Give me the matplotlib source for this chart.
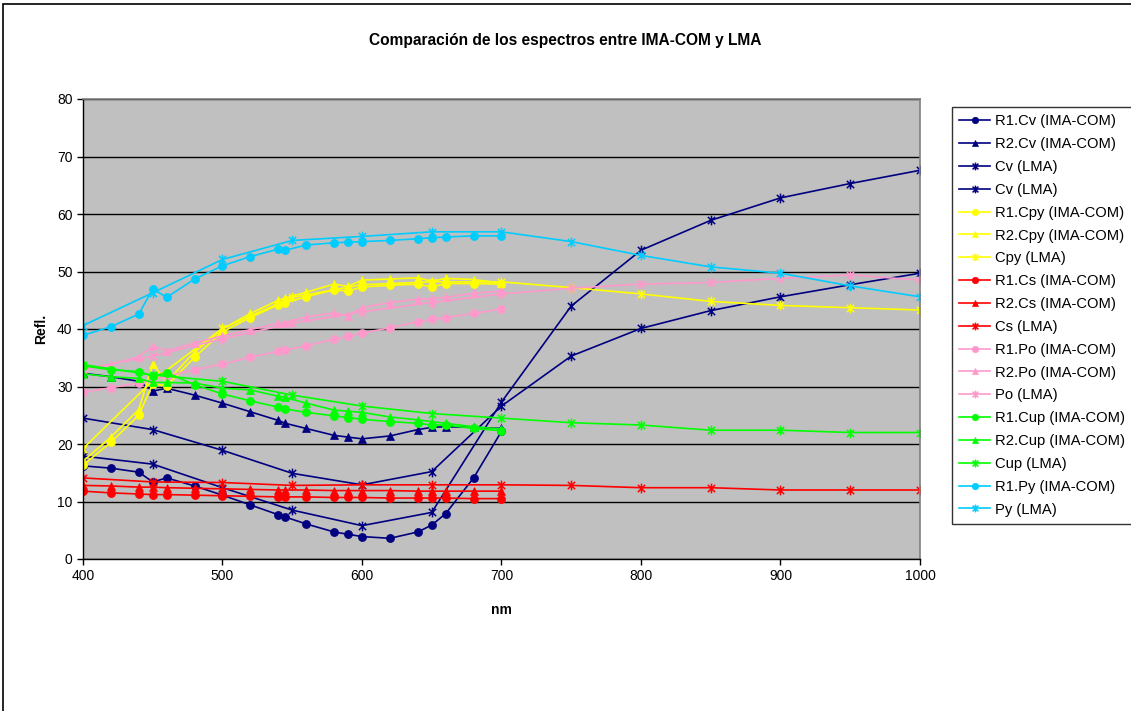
import matplotlib
matplotlib.use("Agg")
import matplotlib.pyplot as plt
from matplotlib.path import Path
from matplotlib.patches import Rectangle

plt.rcParams["font.family"] = ["Liberation Sans", "DejaVu Sans"]

# wavelengths (nm)
wl_ima = [400, 420, 440, 450, 460, 480, 500, 520, 540, 545,
          560, 580, 590, 600, 620, 640, 650, 660, 680, 700]
wl_lma = [400, 450, 500, 550, 600, 650, 700, 750, 800, 850, 900, 950, 1000]

r1_cv = [16.2, 15.8, 15.1, 13.4, 14.1, 12.7, 11.1, 9.4, 7.7, 7.3,
         6.1, 4.7, 4.3, 3.9, 3.6, 4.7, 5.9, 7.9, 14.1, 22.2]
r2_cv = [32.3, 31.7, 30.9, 29.2, 29.7, 28.5, 27.1, 25.6, 24.1, 23.6,
         22.7, 21.5, 21.2, 20.9, 21.4, 22.5, 22.9, 23.0, 22.9, 22.7]
cv_lma_a = [24.5, 22.5, 18.9, 14.9, 12.9, 15.2, 26.6, 35.3, 40.1, 43.2, 45.6, 47.7, 49.7]
cv_lma_b = [17.9, 16.5, 12.4, 8.5, 5.8, 8.1, 27.3, 44.0, 53.7, 58.9, 62.8, 65.3, 67.6]

r1_cpy = [16.3, 20.3, 25.0, 30.5, 30.1, 35.1, 39.5, 42.0, 44.2, 44.6,
          45.6, 46.8, 46.6, 47.3, 47.6, 47.8, 47.3, 47.9, 47.9, 47.8]
r2_cpy = [17.0, 21.2, 26.0, 33.9, 30.8, 36.0, 40.0, 42.7, 45.0, 45.4,
          46.4, 47.8, 47.4, 48.5, 48.7, 48.9, 48.3, 48.8, 48.6, 48.0]
cpy_lma = [19.2, 31.0, 40.1, 45.5, 47.7, 48.2, 48.2, 47.2, 46.1, 44.8, 44.1, 43.7, 43.3]

r1_cs = [11.8, 11.5, 11.3, 11.2, 11.2, 11.1, 11.0, 10.9, 10.8, 10.8,
         10.8, 10.7, 10.7, 10.7, 10.6, 10.6, 10.6, 10.6, 10.5, 10.5]
r2_cs = [12.8, 12.7, 12.5, 12.5, 12.4, 12.3, 12.2, 12.1, 12.0, 12.0,
         12.0, 11.9, 11.9, 11.9, 11.9, 11.8, 11.8, 11.8, 11.8, 11.8]
cs_lma = [14.1, 13.4, 13.3, 12.8, 12.9, 12.9, 12.9, 12.8, 12.4, 12.4, 12.0, 12.0, 12.0]

r1_po = [29.0, 29.8, 30.6, 31.2, 31.8, 32.9, 33.9, 35.1, 36.1, 36.3,
         37.1, 38.2, 38.7, 39.3, 40.2, 41.3, 41.7, 42.0, 42.7, 43.5]
r2_po = [32.8, 33.8, 35.2, 37.0, 36.2, 37.6, 38.8, 39.9, 41.0, 41.1,
         42.1, 42.8, 42.3, 43.7, 44.6, 45.2, 45.3, 45.5, 46.2, 46.6]
po_lma = [33.0, 35.3, 38.3, 41.0, 43.0, 44.6, 46.1, 47.1, 47.8, 48.1, 48.8, 49.4, 48.5]

r1_cup = [33.6, 32.9, 32.6, 31.8, 32.4, 30.3, 28.7, 27.5, 26.4, 26.1,
          25.5, 24.9, 24.6, 24.3, 23.9, 23.6, 23.3, 23.3, 22.7, 22.3]
r2_cup = [32.2, 31.7, 31.4, 30.7, 30.7, 30.6, 29.7, 29.4, 28.3, 28.1,
          27.1, 25.9, 25.7, 25.5, 24.7, 24.2, 23.9, 23.6, 23.0, 22.6]
cup_lma = [33.8, 32.0, 30.9, 28.5, 26.6, 25.3, 24.5, 23.7, 23.3, 22.4, 22.4, 22.0, 22.0]

r1_py = [38.9, 40.4, 42.6, 47.0, 45.5, 48.7, 51.0, 52.6, 53.9, 53.7,
         54.6, 55.0, 55.1, 55.2, 55.4, 55.7, 55.9, 56.0, 56.2, 56.2]
py_lma = [40.6, 46.3, 52.1, 55.4, 56.1, 56.9, 56.9, 55.2, 52.8, 50.8, 49.7, 47.5, 45.6]

NAVY, YELLOW, RED = "#000080", "#FFFF00", "#FF0000"
PINK, GREEN, SKY = "#FF99CC", "#00FF00", "#00CCFF"

# Excel-style asterisk marker: X plus vertical bar
star = Path([(0, -1), (0, 1), (-0.75, -0.75), (0.75, 0.75), (-0.75, 0.75), (0.75, -0.75)],
            [Path.MOVETO, Path.LINETO] * 3)

series = [
    (wl_ima, r1_cv, NAVY, "o", "R1.Cv (IMA-COM)"),
    (wl_ima, r2_cv, NAVY, "^", "R2.Cv (IMA-COM)"),
    (wl_lma, cv_lma_a, NAVY, star, "Cv (LMA)"),
    (wl_lma, cv_lma_b, NAVY, star, "Cv (LMA)"),
    (wl_ima, r1_cpy, YELLOW, "o", "R1.Cpy (IMA-COM)"),
    (wl_ima, r2_cpy, YELLOW, "^", "R2.Cpy (IMA-COM)"),
    (wl_lma, cpy_lma, YELLOW, star, "Cpy (LMA)"),
    (wl_ima, r1_cs, RED, "o", "R1.Cs (IMA-COM)"),
    (wl_ima, r2_cs, RED, "^", "R2.Cs (IMA-COM)"),
    (wl_lma, cs_lma, RED, star, "Cs (LMA)"),
    (wl_ima, r1_po, PINK, "o", "R1.Po (IMA-COM)"),
    (wl_ima, r2_po, PINK, "^", "R2.Po (IMA-COM)"),
    (wl_lma, po_lma, PINK, star, "Po (LMA)"),
    (wl_ima, r1_cup, GREEN, "o", "R1.Cup (IMA-COM)"),
    (wl_ima, r2_cup, GREEN, "^", "R2.Cup (IMA-COM)"),
    (wl_lma, cup_lma, GREEN, star, "Cup (LMA)"),
    (wl_ima, r1_py, SKY, "o", "R1.Py (IMA-COM)"),
    (wl_lma, py_lma, SKY, star, "Py (LMA)"),
]

fig = plt.figure(figsize=(11.31, 7.11), dpi=100)
ax = fig.add_axes([83 / 1131, 1 - 559 / 711, 837 / 1131, 460 / 711])
ax.set_facecolor("#C0C0C0")

for x, y, col, mk, lab in series:
    is_star = not isinstance(mk, str)
    ax.plot(x, y, color=col, linewidth=1.2, marker=mk,
            markersize=7 if is_star else 5.8,
            markeredgewidth=1.1 if is_star else 0.5,
            markerfacecolor=col, markeredgecolor=col, label=lab)

ax.set_xlim(400, 1000)
ax.set_ylim(0, 80)
ax.set_xticks(range(400, 1001, 100))
ax.set_yticks(range(0, 81, 10))
ax.yaxis.grid(True, color="black", linewidth=1)
ax.set_axisbelow(True)
ax.tick_params(axis="both", labelsize=10, length=4, width=1, direction="out", color="black")
for side in ("top", "right"):
    ax.spines[side].set_color("#808080")
    ax.spines[side].set_linewidth(1.2)
for side in ("left", "bottom"):
    ax.spines[side].set_color("black")
    ax.spines[side].set_linewidth(1)

ax.set_xlabel("nm", fontsize=10, fontweight="bold", labelpad=14)
ax.set_ylabel("Refl.", fontsize=10, fontweight="bold", labelpad=6)
fig.text(0.5, 1 - 41 / 711, "Comparación de los espectros entre IMA-COM y LMA",
         ha="center", va="center", fontsize=11.2, fontweight="bold")

leg = fig.legend(loc="upper left", bbox_to_anchor=(952 / 1131, 1 - 107 / 711),
                 fontsize=10.6, frameon=True, fancybox=False, borderpad=0.5,
                 labelspacing=0.6, handlelength=2.1, handletextpad=0.3,
                 markerscale=0.8, borderaxespad=0)
leg.get_frame().set_edgecolor("black")
leg.get_frame().set_linewidth(1)

# outer chart-area border (right and bottom fall outside the picture)
fig.patches.append(Rectangle((3 / 1131, -0.5), 2, 1.5 - 4 / 711, transform=fig.transFigure,
                             fill=False, edgecolor="black", linewidth=1.2))

fig.savefig("out.png", dpi=100)
